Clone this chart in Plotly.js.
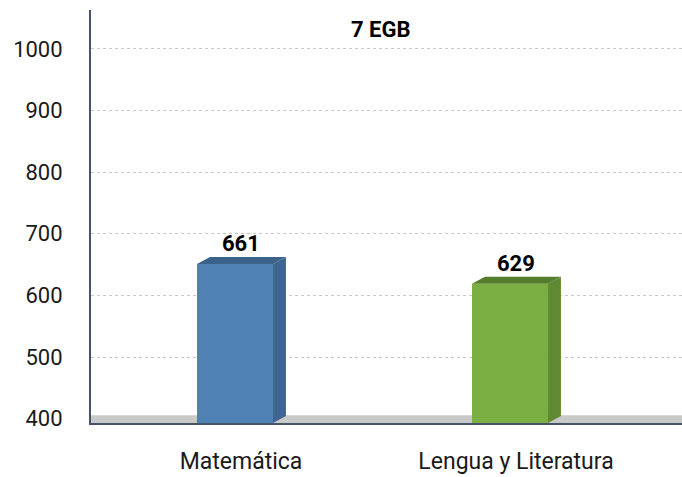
<!DOCTYPE html>
<html>
<head>
<meta charset="utf-8">
<script src="https://cdn.plot.ly/plotly-3.0.1.min.js"></script>
<style>html,body{margin:0;padding:0;background:#fff}#chart{width:682px;height:477px}</style>
</head>
<body>
<div id="chart"></div>
<script>
const categories = ["Matemática", "Lengua y Literatura"];
const values = [661, 629];
const title = "7 EGB";
const tickVals = [400, 500, 600, 700, 800, 900, 1000];

// styling
const frontColors = ["#4f81b5", "#7bae43"];
const sideColors = ["#3e6690", "#5f8a33"];
const topColors = ["#3b6289", "#557e2c"];
const yMin = 393, yMax = 1063;
const barOffset = -0.16, barWidth = 0.2764;
const depthX = 0.047, depthY = 11.4, frontDrop = 10;
const font = "Roboto, 'Open Sans', sans-serif";

const xs = categories.map((c, i) => i);
const frontTops = values.map(v => v - frontDrop);

const shapes = [{
  type: "rect", xref: "paper", yref: "y", x0: 0, x1: 1, y0: yMin, y1: yMin + depthY + 1,
  fillcolor: "#c9c9c9", line: {width: 0}, layer: "below"
}];
xs.forEach((x, i) => {
  const xl = x + barOffset, xr = xl + barWidth, yt = frontTops[i];
  shapes.push({
    type: "path", xref: "x", yref: "y",
    path: `M ${xr},${yMin} L ${xr + depthX},${yMin + depthY} L ${xr + depthX},${yt + depthY} L ${xr},${yt} Z`,
    fillcolor: sideColors[i], line: {width: 0}
  });
  shapes.push({
    type: "path", xref: "x", yref: "y",
    path: `M ${xl},${yt} L ${xl + depthX},${yt + depthY} L ${xr + depthX},${yt + depthY} L ${xr},${yt} Z`,
    fillcolor: topColors[i], line: {width: 0}
  });
});

const annotations = xs.map((x, i) => ({
  x: x + barOffset + barWidth / 2 + depthX / 2, y: frontTops[i] + depthY, xref: "x", yref: "y",
  text: "<b>" + values[i] + "</b>", showarrow: false, yanchor: "bottom", yshift: -1,
  font: {family: font, size: 22, color: "#000"}
}));
annotations.push({
  x: 0.49, y: 1, xref: "paper", yref: "paper", yanchor: "top", yshift: -5,
  text: "<b>" + title + "</b>", showarrow: false,
  font: {family: font, size: 22, color: "#000"}
});

const trace = {
  type: "bar", x: xs, y: frontTops, offset: barOffset, width: barWidth,
  marker: {color: frontColors, line: {width: 0}}, hoverinfo: "skip"
};

const layout = {
  width: 682, height: 477,
  margin: {l: 91, r: 0, t: 10, b: 54},
  paper_bgcolor: "#fff", plot_bgcolor: "#fff",
  showlegend: false,
  xaxis: {
    range: [-0.5455, 1.6036], tickvals: xs, ticktext: categories,
    showgrid: false, zeroline: false, showline: true, linecolor: "#44546a", linewidth: 2,
    ticks: "", tickfont: {family: font, size: 23, color: "#1a1a1a"}, ticklabelstandoff: 16
  },
  yaxis: {
    range: [yMin, yMax], tickvals: tickVals, showgrid: true, gridcolor: "#c8c8c8",
    griddash: "dot", gridwidth: 1, zeroline: false, showline: true, linecolor: "#44546a",
    linewidth: 2, ticks: "", tickfont: {family: font, size: 22, color: "#1a1a1a"}, ticklabelstandoff: 22
  },
  shapes: shapes, annotations: annotations
};

Plotly.newPlot("chart", [trace], layout, {displayModeBar: false, staticPlot: true});
</script>
</body>
</html>
